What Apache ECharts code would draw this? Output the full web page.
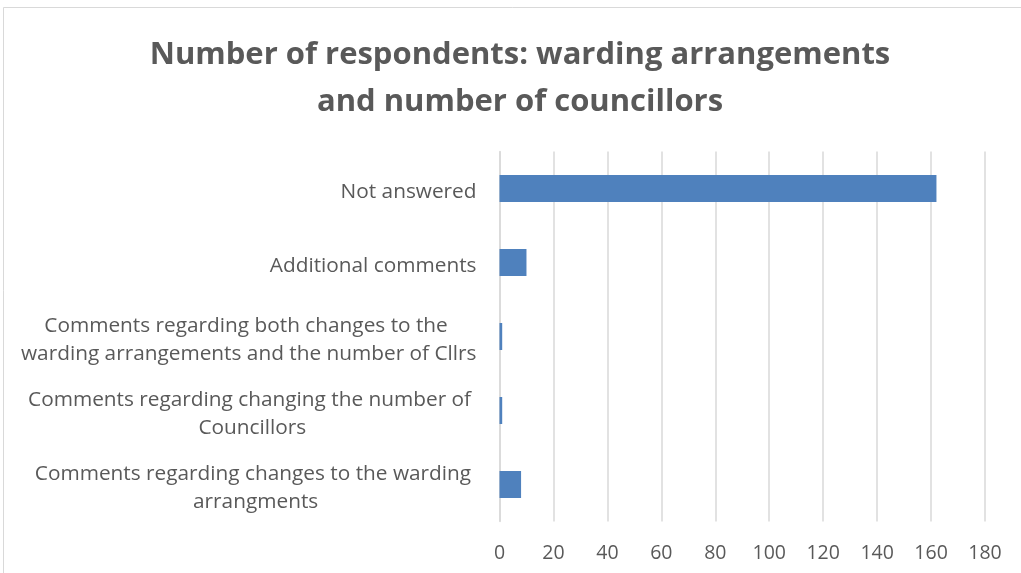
<!DOCTYPE html>
<html>
<head>
<meta charset="utf-8">
<script src="https://cdn.jsdelivr.net/npm/echarts@6/dist/echarts.min.js"></script>
<style>
html,body{margin:0;padding:0;background:#fff;}
#main{width:1021px;height:573px;}
</style>
</head>
<body>
<div id="main"></div>
<script>
const titleLines = ['Number of respondents: warding arrangements', 'and number of councillors'];
const categories = [
  'Comments regarding changes to the warding\narrangments',
  'Comments regarding changing the number of\nCouncillors',
  'Comments regarding both changes to the\nwarding arrangements and the number of Cllrs',
  'Additional comments',
  'Not answered'
];
const values = [8, 1, 1, 10, 162];
const xTicks = [0, 20, 40, 60, 80, 100, 120, 140, 160, 180];

const FONT = 'Open Sans';
const YSIZE = 20.8;
const TEXT = '#595959';

// Centre the lines of each wrapped category label (as Excel does, keeping the
// trailing space of a wrapped line) by padding lines according to their measured width.
const ctx = document.createElement('canvas').getContext('2d');
ctx.font = YSIZE + 'px "' + FONT + '"';
const rich = {};
const labelMap = {};
categories.forEach((cat, i) => {
  const lines = cat.split('\n');
  const last = lines.length - 1;
  const boxW = lines.map((l, j) => ctx.measureText(j < last ? l + ' ' : l).width);
  const visW = lines.map(l => ctx.measureText(l).width);
  const maxW = Math.max.apply(null, boxW);
  labelMap[cat] = lines.map((l, j) => {
    const key = 'l' + i + '_' + j;
    const trail = boxW[j] - visW[j];
    rich[key] = {
      fontFamily: FONT, fontSize: YSIZE, color: TEXT, lineHeight: 28,
      padding: [0, (maxW - boxW[j]) / 2 + trail, 0, 0]
    };
    return '{' + key + '|' + l + '}';
  }).join('\n');
});

const chart = echarts.init(document.getElementById('main'), null, {renderer: 'canvas'});
chart.setOption({
  animation: false,
  backgroundColor: '#fff',
  title: {
    text: titleLines.join('\n'),
    left: 515, top: 27, textAlign: 'center',
    textStyle: {fontFamily: FONT, fontWeight: 'bold', fontSize: 31, color: TEXT, lineHeight: 47}
  },
  graphic: [{
    type: 'rect', silent: true,
    shape: {x: 3.5, y: 7.5, width: 1100, height: 700},
    style: {fill: 'none', stroke: '#d9d9d9', lineWidth: 1}
  }],
  grid: {left: 499.5, right: 36, top: 151.5, bottom: 51.5, containLabel: false},
  xAxis: {
    type: 'value', min: xTicks[0], max: xTicks[xTicks.length - 1], interval: 20,
    axisLine: {show: false}, axisTick: {show: false},
    splitLine: {show: true, lineStyle: {color: '#d9d9d9', width: 1.5}},
    axisLabel: {margin: 22, fontFamily: FONT, fontSize: 19.5, color: TEXT}
  },
  yAxis: {
    type: 'category', data: categories,
    axisLine: {show: true, lineStyle: {color: '#d9d9d9', width: 1.5}},
    axisTick: {show: false},
    axisLabel: {
      margin: 23, fontFamily: FONT, fontSize: YSIZE, color: TEXT, lineHeight: 28,
      padding: [7, 0, 0, 0],
      formatter: v => labelMap[v],
      rich: rich
    }
  },
  series: [{
    type: 'bar', data: values, barWidth: 27,
    itemStyle: {color: '#4f81bd'}
  }]
});
</script>
</body>
</html>
